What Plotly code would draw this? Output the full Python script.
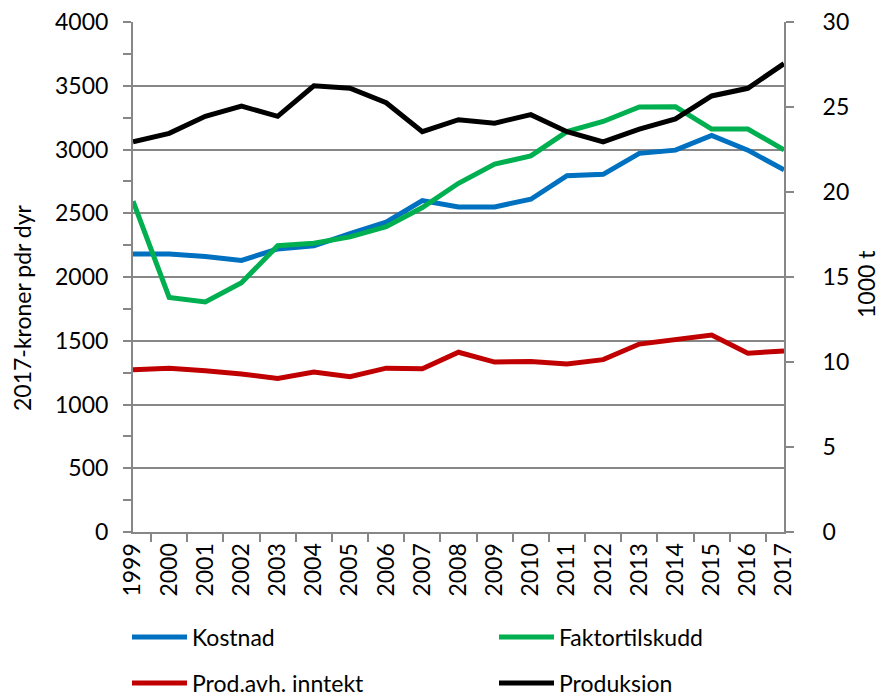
import plotly.graph_objects as go

years = [str(y) for y in range(1999, 2018)]

kostnad = [2180, 2180, 2160, 2130, 2220, 2245, 2340, 2430, 2600, 2550, 2550,
           2610, 2795, 2805, 2970, 2995, 3110, 2995, 2840]
faktortilskudd = [2595, 1840, 1805, 1955, 2245, 2265, 2315, 2395, 2545, 2735, 2885,
                  2950, 3140, 3220, 3333, 3335, 3160, 3160, 2998]
prod_avh_inntekt = [1272, 1285, 1265, 1240, 1205, 1255, 1218, 1285, 1280, 1410, 1333,
                    1338, 1317, 1352, 1474, 1514, 1545, 1402, 1420]
produksjon = [22.95, 23.45, 24.45, 25.05, 24.45, 26.25, 26.1, 25.25, 23.55, 24.25, 24.05,
              24.55, 23.55, 22.95, 23.7, 24.3, 25.65, 26.1, 27.55]

left_ticks = [0, 500, 1000, 1500, 2000, 2500, 3000, 3500, 4000]
right_ticks = [0, 5, 10, 15, 20, 25, 30]

FONT = "Lato"
FS = 23
AXIS_GREY = "#878787"
W, H = 880, 692
LW = 5

fig = go.Figure()
fig.add_trace(go.Scatter(x=years, y=kostnad, name="Kostnad", mode="lines",
                         line=dict(color="#0070C0", width=LW), legend="legend"))
fig.add_trace(go.Scatter(x=years, y=faktortilskudd, name="Faktortilskudd", mode="lines",
                         line=dict(color="#00B050", width=LW), legend="legend2"))
fig.add_trace(go.Scatter(x=years, y=prod_avh_inntekt, name="Prod.avh. inntekt", mode="lines",
                         line=dict(color="#C00000", width=LW), legend="legend3"))
fig.add_trace(go.Scatter(x=years, y=produksjon, name="Produksjon", mode="lines",
                         line=dict(color="#000000", width=LW), yaxis="y2", legend="legend4"))


def legend_box(x_px, y_px):
    # one legend entry placed in container pixels (x = left edge, y = middle from top)
    return dict(orientation="h", xanchor="left", yanchor="middle",
                xref="container", yref="container",
                x=x_px / W, y=(H - y_px) / H,
                font=dict(family=FONT, size=FS, color="#000000"),
                bgcolor="rgba(0,0,0,0)", borderwidth=0, itemwidth=55)


fig.update_layout(
    width=W, height=H,
    margin=dict(l=133, r=96, t=22, b=160, autoexpand=False),
    paper_bgcolor="white", plot_bgcolor="white",
    font=dict(family=FONT, size=FS, color="#000000"),
    showlegend=True,
    legend=legend_box(127, 637),
    legend2=legend_box(494, 637),
    legend3=legend_box(127, 683),
    legend4=legend_box(494, 683),
    xaxis=dict(
        type="category", tickangle=-90, tickson="boundaries", automargin=False,
        ticks="outside", ticklen=8, tickcolor=AXIS_GREY, tickwidth=1.5,
        showline=True, linecolor=AXIS_GREY, linewidth=2,
        showgrid=False, tickfont=dict(size=FS),
    ),
    yaxis=dict(
        range=[0, 4000], tickvals=left_ticks, automargin=False,
        ticks="outside", ticklen=8, tickcolor=AXIS_GREY, tickwidth=1.5,
        minor=dict(dtick=250, ticks="outside", ticklen=8, tickcolor=AXIS_GREY,
                   tickwidth=1.5, showgrid=False),
        showline=True, linecolor=AXIS_GREY, linewidth=2,
        showgrid=True, gridcolor=AXIS_GREY, gridwidth=1.5,
        zeroline=False, ticklabelstandoff=10,
    ),
    yaxis2=dict(
        overlaying="y", side="right", range=[0, 30], tickvals=right_ticks,
        automargin=False,
        ticks="outside", ticklen=8, tickcolor=AXIS_GREY, tickwidth=1.5,
        showline=True, linecolor=AXIS_GREY, linewidth=2,
        showgrid=False, zeroline=False, ticklabelstandoff=24,
    ),
    annotations=[
        dict(text="2017-kroner pdr dyr", textangle=-90, showarrow=False,
             xref="paper", yref="paper", x=(22 - 133) / 651, y=(532 - 307) / 510,
             xanchor="center", yanchor="middle", font=dict(size=FS)),
        dict(text="1000 t", textangle=-90, showarrow=False,
             xref="paper", yref="paper", x=(866 - 133) / 651, y=(532 - 284) / 510,
             xanchor="center", yanchor="middle", font=dict(size=FS)),
    ],
)

fig.write_html("out.html")
